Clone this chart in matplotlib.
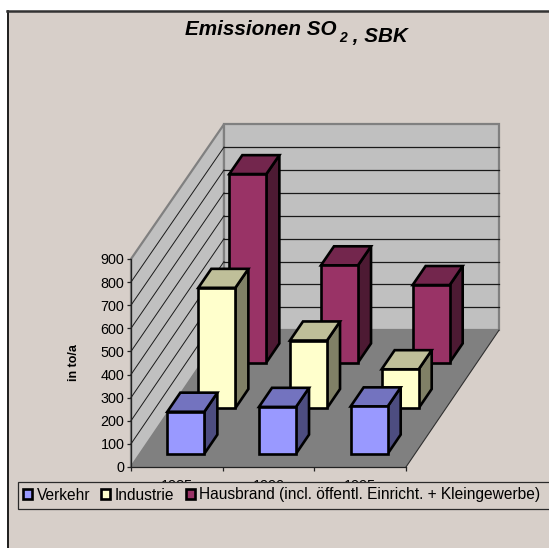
import matplotlib
matplotlib.use("Agg")
import matplotlib.pyplot as plt
from matplotlib.patches import Patch, Polygon, Rectangle

plt.rcParams['font.family'] = ['Liberation Sans', 'DejaVu Sans']

years = ['1985', '1990', '1995']
series = ['Verkehr', 'Industrie', 'Hausbrand (incl. öffentl. Einricht. + Kleingewerbe)']
verkehr = [182, 203, 205]
industrie = [523, 294, 169]
hausbrand = [822, 424, 338]
yticks = [0, 100, 200, 300, 400, 500, 600, 700, 800, 900]

front_cols = ['#9999FF', '#FFFFCC', '#993366']
top_cols = ['#7373BF', '#BFBF99', '#73264D']
side_cols = ['#4D4D80', '#808066', '#4D1A33']

W, H = 549, 548
BG = '#D7CFC9'
# oblique offset of the full depth, in axis units
DX = 1.0145
DY = 592.0
BAR_W = 0.404
BAR_D = 0.14


def proj(x, d, v):
    # slight foreshortening so the back wall comes out a bit shorter
    return x + d * DX, v * (1 - 0.01 * d) + d * DY


def poly(ax, pts, **kw):
    ax.add_patch(Polygon([proj(*p) for p in pts], closed=True, clip_on=False, **kw))


fig = plt.figure(figsize=(W / 100, H / 100), dpi=100, facecolor='white')

# chart area
fig.patches.append(Rectangle((7 / W, 0), 1, 1 - 11 / H, transform=fig.transFigure,
                             facecolor=BG, edgecolor='none', zorder=-5))
fig.add_artist(plt.Line2D([7.5 / W, 7.5 / W], [0, 1 - 11 / H], color='black', lw=1.2))
fig.add_artist(plt.Line2D([7 / W, 1], [1 - 11 / H, 1 - 11 / H], color='#333333', lw=1.8))

ax = fig.add_axes([131 / W, 1 - 467 / H, 275 / W, 208 / H])
ax.set_xlim(0, 3)
ax.set_ylim(0, 900)
ax.patch.set_visible(False)

top = yticks[-1]
# walls and floor
poly(ax, [(0, 0, 0), (0, 1, 0), (0, 1, top), (0, 0, top)], facecolor='#C0C0C0', edgecolor='#808080', lw=1.6, zorder=1)
poly(ax, [(0, 1, 0), (3, 1, 0), (3, 1, top), (0, 1, top)], facecolor='#C0C0C0', edgecolor='#808080', lw=1.6, zorder=1)
poly(ax, [(0, 0, 0), (3, 0, 0), (3, 1, 0), (0, 1, 0)], facecolor='#808080', edgecolor='none', zorder=2)
x0, y0 = zip(proj(3, 0, 0), proj(3, 1, 0))
ax.plot(x0, y0, color='#303030', lw=0.8, clip_on=False, zorder=2)

for v in yticks[1:-1]:
    a, b, c = proj(0, 0, v), proj(0, 1, v), proj(3, 1, v)
    ax.plot([a[0], b[0]], [a[1], b[1]], color='#1A1A1A', lw=0.7, clip_on=False, zorder=1.5)
    ax.plot([b[0], c[0]], [b[1], c[1]], color='#1A1A1A', lw=0.9, clip_on=False, zorder=1.5)

# bars, back row first
for row, vals in reversed(list(enumerate([verkehr, industrie, hausbrand]))):
    d0 = (row + 0.5) / 3 - BAR_D / 2
    d1 = d0 + BAR_D
    for i, v in enumerate(vals):
        l = i + (1 - BAR_W) / 2
        r = l + BAR_W
        z = 5 + (2 - row)
        edge = dict(edgecolor='black', lw=1.9, joinstyle='miter', zorder=z)
        poly(ax, [(r, d0, 0), (r, d1, 0), (r, d1, v), (r, d0, v)], facecolor=side_cols[row], **edge)
        poly(ax, [(l, d0, v), (r, d0, v), (r, d1, v), (l, d1, v)], facecolor=top_cols[row], **edge)
        poly(ax, [(l, d0, 0), (r, d0, 0), (r, d0, v), (l, d0, v)], facecolor=front_cols[row], **edge)

for s in ['top', 'right']:
    ax.spines[s].set_visible(False)
for s in ['left', 'bottom']:
    ax.spines[s].set_color('#222222')
    ax.spines[s].set_linewidth(0.9)
    ax.spines[s].set_zorder(4)

ax.set_yticks(yticks)
ax.set_xticks([0, 1, 2, 3])
ax.set_xticklabels([])
ax.set_xticks([0.5, 1.5, 2.5], labels=years, minor=True)
ax.tick_params(axis='x', which='minor', length=0, labelsize=10.4, pad=8.5)
ax.tick_params(axis='both', which='major', length=3.2, width=0.9, color='#222222', labelsize=10.4, pad=1.5)
ax.set_ylabel('in to/a', fontsize=9, fontweight='bold', labelpad=15, y=0.5)

# title, the subscript is a separate piece
t1 = fig.text(185 / W, 1 - 35 / H, 'Emissionen SO', fontsize=14.9, fontweight='bold', fontstyle='italic', ha='left', va='baseline')
t2 = ax.annotate('2', xy=(1, 0), xycoords=t1, xytext=(2.2, -2.2), textcoords='offset points',
                 fontsize=10, fontweight='bold', fontstyle='italic', ha='left', va='baseline', annotation_clip=False)
ax.annotate(' , SBK', xy=(1, 0), xycoords=t2, xytext=(0, 2.2), textcoords='offset points',
            fontsize=14.9, fontweight='bold', fontstyle='italic', ha='left', va='baseline', annotation_clip=False)

# legend box runs past the right edge of the picture
fig.add_artist(Rectangle((17.5 / W, 1 - 509 / H), 1, 27 / H, transform=fig.transFigure,
                         facecolor=BG, edgecolor='#2A2A2A', lw=0.9, zorder=8))
handles = [Patch(facecolor=c, edgecolor='black', lw=1.9) for c in front_cols]
leg = fig.legend(handles, series, ncol=3, loc='center left', bbox_to_anchor=(23 / W, 1 - 495 / H),
                 frameon=False, fontsize=11.2, handlelength=0.58, handleheight=0.58, handletextpad=0.3,
                 columnspacing=0.72, borderpad=0, borderaxespad=0)
leg.set_zorder(9)

fig.savefig('out.png', dpi=100, facecolor='white')
